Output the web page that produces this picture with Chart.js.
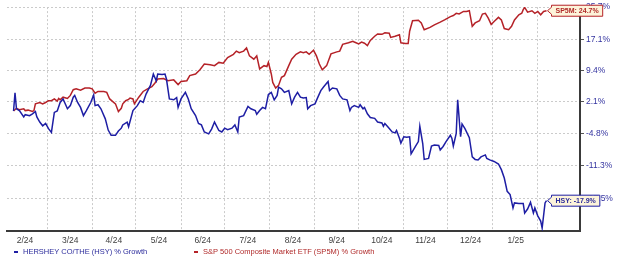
<!DOCTYPE html>
<html>
<head>
<meta charset="utf-8">
<script src="https://cdn.jsdelivr.net/npm/chart.js@4.4.1/dist/chart.umd.min.js"></script>
<style>
  html, body { margin: 0; padding: 0; background: #fff; }
  #wrap { width: 620px; height: 256px; }
</style>
</head>
<body>
<div id="wrap"><canvas id="growthChart" width="620" height="256"></canvas></div>
<script>
// x values are days counted from Feb 1, 2024; values are % growth
const hsyDays = [
  6, 7, 8, 10, 13, 14, 17, 19, 21, 22, 24, 26, 28, 30, 32, 34, 36, 38, 40, 43,
  45, 47, 48, 50, 52, 54, 56, 59, 61, 62, 64, 66, 69, 71, 73, 76, 78, 80, 81, 84,
  85, 88, 91, 93, 95, 97, 100, 102, 104, 105, 108, 110, 111, 113, 116, 118, 119, 121, 124, 126,
  128, 131, 133, 135, 137, 140, 142, 144, 147, 149, 151, 153, 156, 158, 160, 161, 164, 167, 169, 172,
  173, 175, 177, 179, 181, 183, 185, 187, 188, 190, 192, 195, 197, 199, 201, 203, 205, 207, 208, 210,
  213, 215, 217, 219, 222, 223, 225, 228, 230, 232, 235, 237, 238, 240, 243, 244, 246, 247, 249, 251,
  254, 256, 259, 260, 261, 263, 266, 268, 269, 271, 272, 274, 276, 278, 279, 282, 284, 285, 287, 288,
  291, 293, 295, 298, 299, 301, 303, 306, 307, 308, 310, 311, 313, 314, 316, 319, 321, 323, 325, 327,
  330, 331, 333, 336, 339, 341, 343, 345, 347, 349, 350, 353, 356, 357, 359, 361, 363, 364, 366, 368,
  369, 371, 372
];
const hsyGrowth = [
  0.0, 4.1, 0.5, 0.1, -1.3, -0.8, -1.0, -0.6, -0.1, -1.3, -2.4, -3.2, -2.7, -3.8, -4.6, -0.3, 0.0, 1.9, 2.7, 0.5,
  1.2, 3.1, 3.5, 1.9, 0.8, -1.0, 0.1, 1.9, 3.6, 1.2, 1.4, 0.5, -1.7, -4.1, -5.2, -5.2, -4.3, -3.7, -3.0, -2.4,
  -3.4, 0.1, 1.2, 2.3, 1.9, 3.8, 5.8, 8.5, 6.9, 8.5, 8.4, 8.5, 7.3, 2.7, 2.5, 3.0, 0.8, 2.7, 4.2, 2.7,
  0.5, -1.0, -2.7, -3.0, -4.5, -4.9, -3.9, -2.4, -4.2, -4.5, -3.7, -4.0, -3.7, -3.0, -4.5, -1.3, -1.0, 1.0, 0.5, 0.1,
  -0.7, 0.1, 0.8, 0.5, 3.7, 4.2, 2.5, 3.5, 5.4, 5.0, 4.2, 4.6, 1.6, 3.1, 4.2, 3.1, 2.9, 3.0, 0.5, 1.2,
  1.6, 3.1, 4.6, 5.5, 6.7, 4.6, 5.2, 5.0, 3.5, 2.7, 2.5, 0.1, 0.8, 1.2, 0.8, 1.4, 0.5, 0.8, -0.6, -1.4,
  -1.6, -2.4, -2.6, -3.3, -2.7, -3.4, -4.5, -4.7, -4.2, -5.8, -6.8, -5.5, -5.6, -5.5, -9.0, -7.5, -6.5, -3.3, -6.9, -10.1,
  -9.9, -7.4, -7.2, -7.3, -8.2, -7.5, -6.5, -5.2, -5.8, -7.4, -4.8, 2.5, -5.5, -2.8, -3.8, -5.7, -9.6, -10.1, -10.2, -9.6,
  -9.2, -9.9, -10.2, -10.5, -11.0, -12.1, -13.7, -16.2, -16.8, -19.2, -18.3, -18.4, -18.4, -20.1, -19.4, -18.2, -20.1, -19.2, -20.6, -21.5,
  -22.7, -18.3, -17.9
];
const spDays = [
  6, 8, 10, 13, 14, 16, 19, 20, 21, 24, 26, 28, 30, 32, 34, 36, 37, 38, 40, 43,
  45, 47, 49, 52, 55, 58, 60, 62, 64, 68, 70, 72, 76, 78, 80, 81, 83, 85, 86, 88,
  89, 92, 95, 98, 101, 103, 105, 109, 112, 116, 119, 121, 125, 127, 131, 134, 137, 141, 144, 147,
  150, 153, 157, 159, 161, 164, 166, 168, 171, 173, 175, 178, 180, 181, 183, 184, 186, 188, 190, 192,
  195, 197, 200, 203, 205, 207, 209, 212, 214, 216, 218, 221, 224, 228, 230, 232, 236, 239, 240, 243,
  245, 247, 249, 251, 254, 256, 259, 261, 264, 265, 268, 271, 272, 275, 277, 278, 280, 284, 286, 288,
  292, 295, 299, 302, 306, 308, 310, 312, 315, 317, 319, 321, 323, 326, 328, 330, 332, 334, 336, 339,
  341, 343, 346, 348, 350, 353, 355, 356, 357, 359, 362, 364, 366, 368, 370, 372
];
const spGrowth = [
  0.0, 0.6, 0.3, 0.5, 0.1, 0.2, -0.1, 0.1, 1.6, 1.9, 1.6, 1.9, 2.3, 2.3, 2.7, 2.2, 2.8, 2.5, 3.1, 2.8,
  3.5, 4.8, 5.0, 4.7, 5.2, 5.2, 5.0, 4.0, 4.4, 4.4, 4.2, 2.7, 1.6, -0.1, 0.6, 1.6, 2.3, 2.6, 2.9, 2.7,
  1.6, 3.1, 4.4, 5.0, 5.5, 6.3, 7.3, 7.4, 6.9, 7.1, 6.0, 6.7, 6.9, 8.1, 8.5, 9.5, 10.9, 10.7, 10.5, 11.3,
  11.1, 12.5, 13.3, 14.1, 13.7, 14.1, 14.9, 12.9, 12.1, 12.9, 9.7, 10.5, 10.3, 11.3, 8.5, 6.5, 5.2, 5.8, 7.7, 8.1,
  10.5, 12.1, 13.3, 13.9, 13.7, 13.9, 13.3, 14.3, 12.9, 10.9, 9.5, 10.5, 13.4, 13.9, 14.1, 15.8, 16.2, 16.6, 16.4, 15.9,
  16.4, 16.1, 15.5, 16.8, 17.9, 18.5, 18.4, 18.8, 18.7, 17.6, 17.9, 18.3, 16.2, 16.0, 16.0, 19.2, 22.0, 22.1, 21.4, 19.6,
  20.2, 20.9, 21.6, 22.2, 23.1, 23.4, 24.0, 23.8, 24.5, 24.5, 24.7, 20.5, 21.4, 22.0, 23.8, 24.0, 22.7, 21.0, 21.8, 22.9,
  22.2, 19.9, 19.6, 20.5, 22.2, 23.6, 24.0, 25.0, 25.6, 24.3, 24.7, 24.0, 24.5, 23.6, 24.5, 24.7
];
const monthStarts = [29, 60, 90, 121, 151, 182, 213, 243, 274, 304, 335, 366];
const monthLabels = ['2/24', '3/24', '4/24', '5/24', '6/24', '7/24', '8/24', '9/24', '10/24', '11/24', '12/24', '1/25'];
const yTickLabels = [25.7, 17.1, 9.4, 2.1, -4.8, -11.3, -17.5];
const yBottom = -23.2;

// growth is plotted on a log scale of (1 + g)
const toLog = g => Math.log(1 + g / 100);
const toPoints = (days, vals) => days.map((d, i) => ({ x: d, y: toLog(vals[i]) }));

const FONT = '"Liberation Sans", Arial, sans-serif';
Chart.defaults.font.family = FONT;
Chart.defaults.font.size = 8.5;

const legendRow = {
  id: 'legendRow',
  afterDraw(chart) {
    const ctx = chart.ctx;
    const xs = [14, 194];
    ctx.save();
    ctx.font = '7.5px ' + FONT;
    ctx.textBaseline = 'middle';
    chart.data.datasets.forEach((ds, i) => {
      ctx.fillStyle = ds.borderColor;
      ctx.fillRect(xs[i], 251, 4, 2);
      ctx.fillStyle = ds.textColor;
      ctx.fillText(ds.label, xs[i] + 9, 252);
    });
    ctx.restore();
  }
};

const endTags = {
  id: 'endTags',
  afterDraw(chart) {
    const ctx = chart.ctx;
    ctx.save();
    ctx.font = 'bold 7px ' + FONT;
    ctx.textBaseline = 'middle';
    chart.data.datasets.forEach((ds, i) => {
      const meta = chart.getDatasetMeta(i);
      const pt = meta.data[meta.data.length - 1];
      const text = ds.tag + ': ' + ds.endValue.toFixed(1) + '%';
      const w = ctx.measureText(text).width + 8;
      const h = 11;
      const x0 = pt.x + 1;
      const cy = Math.max(pt.y, 8);
      const left = x0 + 4;
      ctx.beginPath();
      ctx.moveTo(x0, cy);
      ctx.lineTo(left, cy - 3.5);
      ctx.lineTo(left, cy - h / 2);
      ctx.lineTo(left + w, cy - h / 2);
      ctx.lineTo(left + w, cy + h / 2);
      ctx.lineTo(left, cy + h / 2);
      ctx.lineTo(left, cy + 3.5);
      ctx.closePath();
      ctx.fillStyle = '#fdf4da';
      ctx.fill();
      ctx.lineWidth = 1;
      ctx.strokeStyle = ds.borderColor;
      ctx.stroke();
      ctx.fillStyle = ds.textColor;
      ctx.textAlign = 'center';
      ctx.fillText(text, left + w / 2, cy + 0.5);
    });
    ctx.restore();
  }
};

new Chart(document.getElementById('growthChart'), {
  type: 'line',
  data: {
    datasets: [
      {
        label: 'HERSHEY CO/THE (HSY) % Growth',
        tag: 'HSY',
        endValue: hsyGrowth[hsyGrowth.length - 1],
        data: toPoints(hsyDays, hsyGrowth),
        borderColor: '#1e1ea4',
        textColor: '#2c2c9c',
        borderWidth: 1.5,
        pointRadius: 0,
        tension: 0
      },
      {
        label: 'S&P 500 Composite Market ETF (SP5M) % Growth',
        tag: 'SP5M',
        endValue: spGrowth[spGrowth.length - 1],
        data: toPoints(spDays, spGrowth),
        borderColor: '#b52228',
        textColor: '#b02a2a',
        borderWidth: 1.5,
        pointRadius: 0,
        tension: 0
      }
    ]
  },
  options: {
    responsive: false,
    animation: false,
    devicePixelRatio: 1,
    layout: { padding: { left: 7, top: 5, right: 0, bottom: 0 } },
    plugins: {
      legend: { display: false },
      tooltip: { enabled: false }
    },
    scales: {
      x: {
        type: 'linear',
        min: 1.5,
        max: 395,
        afterBuildTicks: scale => { scale.ticks = monthStarts.map(v => ({ value: v })); },
        afterFit: scale => { scale.height = 25; },
        ticks: {
          callback: (v, i) => monthLabels[i],
          labelOffset: -22,
          padding: 5,
          autoSkip: false,
          maxRotation: 0,
          color: '#404040'
        },
        grid: { color: '#cbcbcb', lineWidth: 1, drawTicks: false },
        border: { display: true, color: '#3a3a3a', width: 2, dash: [2, 2] }
      },
      y: {
        position: 'right',
        min: toLog(yBottom),
        max: toLog(yTickLabels[0]),
        afterBuildTicks: scale => { scale.ticks = yTickLabels.map(v => ({ value: toLog(v) })); },
        afterFit: scale => { scale.width = 40; },
        ticks: {
          callback: (v, i) => yTickLabels[i].toFixed(1) + '%',
          padding: 2,
          color: '#3434a0'
        },
        grid: { color: '#cbcbcb', lineWidth: 1, tickLength: 4, tickColor: '#555', tickBorderDash: [] },
        border: { display: true, color: '#3a3a3a', width: 2, dash: [2, 2] }
      }
    }
  },
  plugins: [legendRow, endTags]
});
</script>
</body>
</html>
